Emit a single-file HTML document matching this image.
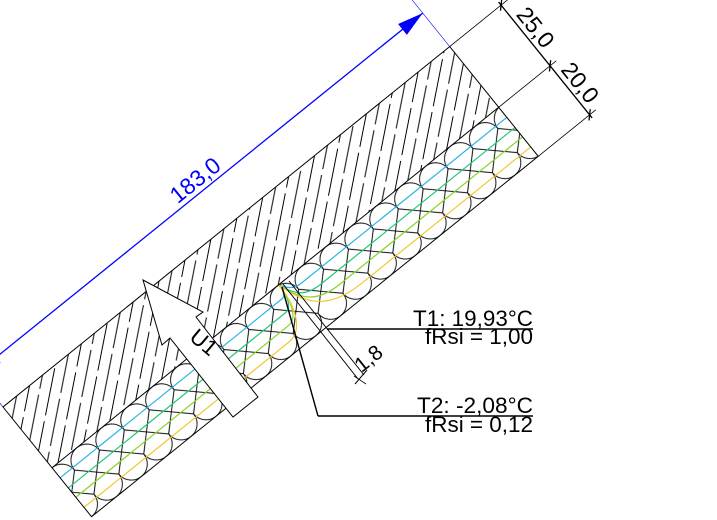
<!DOCTYPE html>
<html><head><meta charset="utf-8"><style>
html,body{margin:0;padding:0;background:#fff;}
svg{display:block;}
text{font-family:"Liberation Sans",Arial,sans-serif;}
</style></head><body>
<svg width="717" height="520" viewBox="0 0 717 520" xmlns="http://www.w3.org/2000/svg">
<defs>
<pattern id="hatch" patternUnits="userSpaceOnUse" width="54" height="21.4" patternTransform="rotate(-40)">
<line x1="0" y1="0.5" x2="48" y2="0.5" stroke="#000" stroke-width="0.9"/>
<line x1="25" y1="11.2" x2="54" y2="11.2" stroke="#000" stroke-width="0.9"/>
<line x1="0" y1="11.2" x2="19" y2="11.2" stroke="#000" stroke-width="0.9"/>
</pattern>
<pattern id="ins" patternUnits="userSpaceOnUse" x="0" y="78" width="32" height="63">
<g fill="none" stroke="#000" stroke-width="0.9">
<path d="M-16,16 A16,16 0 0 1 16,16 M16,16 A16,16 0 0 1 48,16"/>
<path d="M-16,47 A16,16 0 0 0 16,47 M16,47 A16,16 0 0 0 48,47"/>
<line x1="16" y1="16" x2="48" y2="47"/>
<line x1="16" y1="16" x2="-16" y2="47"/>
<line x1="-16" y1="16" x2="16" y2="47"/>
<line x1="48" y1="16" x2="16" y2="47"/>
</g>
</pattern>
</defs>

<g transform="translate(3,407) rotate(-38.9)">
<rect x="0" y="0" width="574" height="78" fill="url(#hatch)"/>
<rect x="0" y="78" width="574" height="63" fill="url(#ins)"/>
<g fill="none" stroke-width="1.2">
<path d="M0,91 H285 C290,91 292,84 291,78 M291,78 C296,86 300,91 310,91 H574" stroke="#2fb4e0"/>
<path d="M0,104 H279 C288,104 292,90 291,78 M291,78 C298,96 305,104 325,104 H574" stroke="#22c87a"/>
<path d="M0,116 H273 C286,116 292,96 291,78 M291,78 C300,106 312,116 340,116 H574" stroke="#86d42a"/>
<path d="M0,129 H263 C284,129 292,100 291,78 M291,78 C302,118 322,129 358,129 H574" stroke="#f0c830"/>
</g>
<g fill="none" stroke="#000" stroke-width="1">
<rect x="0" y="0" width="574" height="141"/>
<line x1="0" y1="78" x2="574" y2="78"/>
<line x1="574" y1="0" x2="648" y2="0" stroke-width="0.8"/>
<line x1="574" y1="78" x2="648" y2="78" stroke-width="0.8"/>
<line x1="574" y1="141" x2="648" y2="141" stroke-width="0.8"/>
<line x1="640" y1="-4" x2="640" y2="145" stroke-width="1.3"/>
<line x1="636" y1="4" x2="644" y2="-4" stroke-width="1.3"/>
<line x1="636" y1="82" x2="644" y2="74" stroke-width="1.3"/>
<line x1="636" y1="145" x2="644" y2="137" stroke-width="1.3"/>
</g>
<text x="645" y="39" font-size="23" text-anchor="middle" transform="rotate(90 645 39)">25,0</text>
<text x="645" y="110" font-size="23" text-anchor="middle" transform="rotate(90 645 110)">20,0</text>
<g stroke="#0000ff" fill="#0000ff">
<line x1="0" y1="-43" x2="574" y2="-43" stroke-width="1.3"/>
<line x1="574" y1="0" x2="574" y2="-60" stroke-width="0.6"/>
<line x1="0" y1="0" x2="0" y2="-60" stroke-width="0.6"/>
<polygon points="574,-43 548,-50 548,-36" stroke="none"/>
<polygon points="0,-43 26,-50 26,-36" stroke="none"/>
</g>
<text x="292" y="-48" font-size="23" fill="#0000ff" text-anchor="middle">183,0</text>
</g>

<polygon points="143,280 203,312 196,317 258,397 233,417 170,338 162,345" fill="#fff" stroke="#000" stroke-width="1"/>
<text x="199" y="348" font-size="22" text-anchor="middle" transform="rotate(40 199 348)">U1</text>

<g stroke="#000" fill="none">
<line x1="283" y1="284" x2="358" y2="379" stroke-width="1"/>
<line x1="289" y1="281" x2="364" y2="375" stroke-width="1"/>
<line x1="355" y1="384" x2="367" y2="370" stroke-width="1"/>
<line x1="354" y1="376" x2="366" y2="384" stroke-width="0.8"/>
<line x1="282" y1="287" x2="318" y2="416" stroke-width="1.4"/>
<line x1="318" y1="416" x2="533" y2="416" stroke-width="1.6"/>
<line x1="327" y1="329" x2="533" y2="329" stroke-width="1.6"/>
</g>
<text x="373" y="364" font-size="21" text-anchor="middle" transform="rotate(-38.7 373 364)">1,8</text>

<text x="533" y="326" font-size="22" text-anchor="end" textLength="120" lengthAdjust="spacingAndGlyphs">T1: 19,93°C</text>
<text x="533" y="344" font-size="22" text-anchor="end" textLength="108" lengthAdjust="spacingAndGlyphs">fRsi = 1,00</text>
<text x="533" y="413" font-size="22" text-anchor="end" textLength="116" lengthAdjust="spacingAndGlyphs">T2: -2,08°C</text>
<text x="533" y="432" font-size="22" text-anchor="end" textLength="108" lengthAdjust="spacingAndGlyphs">fRsi = 0,12</text>
</svg>
</body></html>
